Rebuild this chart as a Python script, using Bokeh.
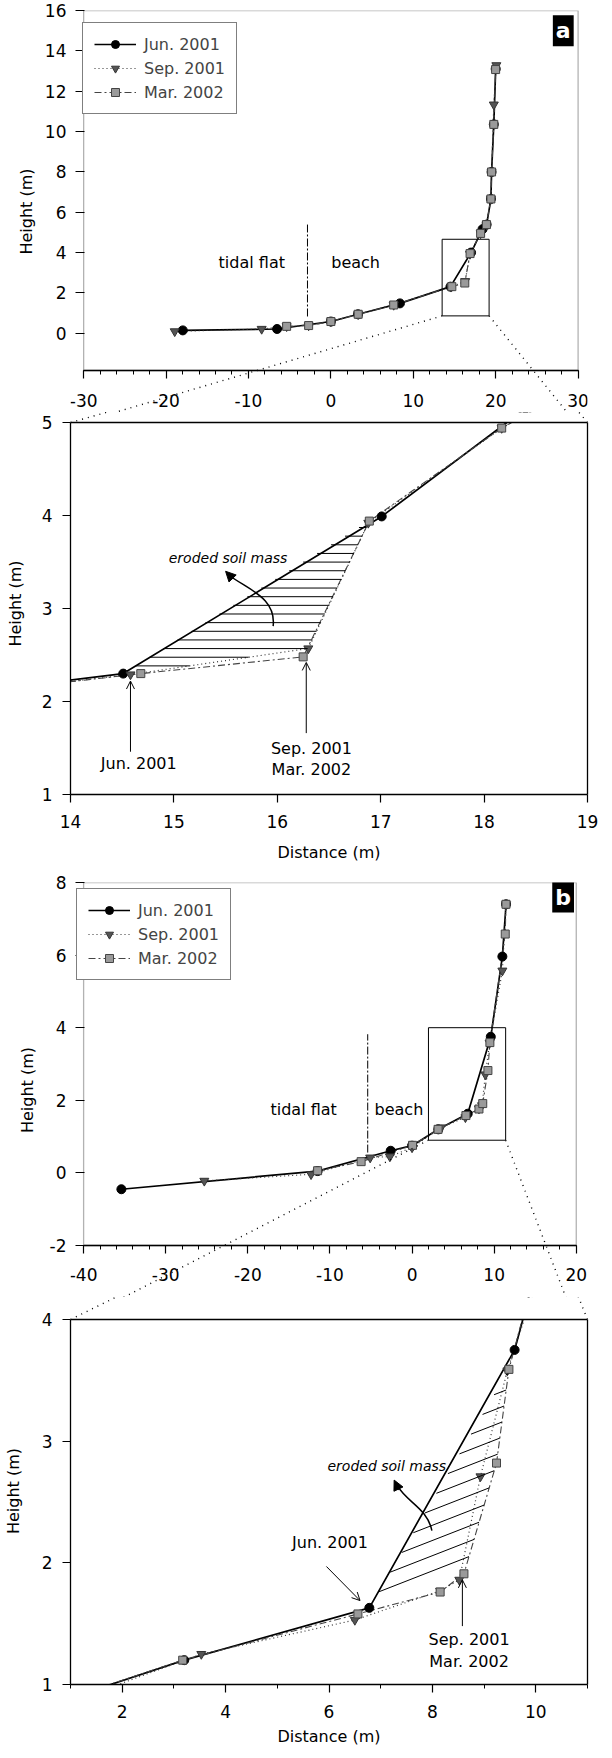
import numpy as np
from bokeh.plotting import figure
from bokeh.layouts import column
from bokeh.models import (Range1d, FixedTicker, Legend, LegendItem, Label, Arrow, LinearAxis,
                          OpenHead, NormalHead, Span, BoxAnnotation, CustomJSTickFormatter)
from bokeh.core.properties import value
from bokeh.embed import file_html
from bokeh.resources import INLINE

FONT = "DejaVu Sans"
W = 604
PAGE_L, PAGE_R = 8, 8 + W
EXT_L, EXT_R = 14, 12   # frame margin beside the axes box of the overview panels

# ---------------- data : profile a ----------------
a_jun_x = [-17.97, -6.53, 0.0, 3.3, 8.38, 14.51, 17.01, 18.4, 18.9, 19.42, 19.5, 19.77, 20.0]
a_jun_y = [0.13, 0.20, 0.57, 0.93, 1.47, 2.30, 3.99, 5.15, 5.38, 6.65, 7.99, 10.35, 13.1]
a_sep_x = [-18.95, -8.40, -5.37, -2.70, 0.0, 3.31, 7.62, 14.58, 16.30, 16.88, 18.17, 18.88, 19.42, 19.50, 19.77, 20.08]
a_sep_y = [0.08, 0.20, 0.33, 0.37, 0.57, 0.93, 1.39, 2.29, 2.57, 3.92, 4.94, 5.38, 6.65, 7.99, 11.33, 13.28]
a_mar_x = [-5.37, -2.70, 0.0, 3.31, 7.62, 14.68, 16.25, 16.89, 18.17, 18.88, 19.42, 19.50, 19.77, 19.99]
a_mar_y = [0.33, 0.37, 0.57, 0.93, 1.39, 2.30, 2.48, 3.94, 4.94, 5.38, 6.65, 7.99, 10.35, 13.07]
a_boundary_x = -2.84
a_boundary_y = [0.82, 5.38]
a_zoombox = [13.5, 19.2, 0.85, 4.65]   # x0, x1, y0, y1

# ---------------- data : profile b ----------------
b_jun_x = [-35.4, -11.5, -2.6, 0.0, 3.2, 6.78, 9.59, 11.0, 11.45]
b_jun_y = [-0.45, 0.05, 0.61, 0.75, 1.20, 1.63, 3.75, 5.96, 7.40]
b_sep_x = [-25.3, -12.3, -5.1, -2.7, 0.0, 3.53, 6.50, 8.15, 8.52, 8.93, 9.45, 11.0, 11.45]
b_sep_y = [-0.22, -0.04, 0.42, 0.45, 0.70, 1.25, 1.53, 1.77, 1.86, 2.71, 3.58, 5.57, 7.40]
b_mar_x = [-11.5, -6.2, 0.06, 3.17, 6.56, 8.15, 8.61, 9.24, 9.48, 11.35, 11.44]
b_mar_y = [0.06, 0.31, 0.76, 1.20, 1.58, 1.76, 1.91, 2.82, 3.59, 6.58, 7.40]
b_boundary_x = -5.4
b_boundary_y = [0.56, 3.82]
b_zoombox = [2.0, 11.4, 0.9, 4.0]

labels = ["Jun. 2001", "Sep. 2001", "Mar. 2002"]

# ---------------- layout (page pixels) ----------------
# ct/cb: canvas top/bottom ; bl/br/bt/bb: axes box edges
LAY = {
    "a":  dict(ct=8,    cb=420,  bl=76, br=602, bt=18,   bb=378,  xr=(-30, 30), yr=(-1.86, 16), main=True),
    "az": dict(ct=420,  cb=880,  bl=73, br=599, bt=430,  bb=802,  xr=(14, 19),  yr=(1, 5),      main=False),
    "b":  dict(ct=880,  cb=1305, bl=71, br=597, bt=890,  bb=1253, xr=(-40, 20), yr=(-2, 8),     main=True),
    "bz": dict(ct=1305, cb=1758, bl=68, br=595, bt=1327, bb=1692, xr=(1, 11),   yr=(1, 4),      main=False),
}
for d in LAY.values():
    if d["main"]:
        d["fl"], d["fr"] = d["bl"] - EXT_L, min(d["br"] + EXT_R, PAGE_R)
        d["ft"], d["fb"] = d["bt"], d["cb"]
    else:
        d["fl"], d["fr"], d["ft"], d["fb"] = d["bl"], d["br"], d["ct"], d["bb"]
    d["ppx"] = (d["br"] - d["bl"]) / (d["xr"][1] - d["xr"][0])
    d["ppy"] = (d["bb"] - d["bt"]) / (d["yr"][1] - d["yr"][0])
    d["xlo"] = d["xr"][0] - (d["bl"] - d["fl"]) / d["ppx"]
    d["xhi"] = d["xr"][1] + (d["fr"] - d["br"]) / d["ppx"]
    d["ylo"] = d["yr"][0] - (d["fb"] - d["bb"]) / d["ppy"]
    d["yhi"] = d["yr"][1] + (d["bt"] - d["ft"]) / d["ppy"]


def to_page(name, x, y):
    d = LAY[name]
    return d["bl"] + (x - d["xr"][0]) * d["ppx"], d["bb"] - (y - d["yr"][0]) * d["ppy"]


def from_page(name, px, py):
    d = LAY[name]
    return d["xr"][0] + (px - d["bl"]) / d["ppx"], d["yr"][0] + (d["bb"] - py) / d["ppy"]


def style_axis(ax):
    ax.axis_line_color = "black"
    ax.axis_line_width = 1.3
    ax.major_tick_line_color = "black"
    ax.major_tick_line_width = 1.2
    ax.major_tick_out = 8
    ax.major_tick_in = 0
    ax.minor_tick_line_color = "black"
    ax.minor_tick_out = 4
    ax.minor_tick_in = 0
    ax.major_label_text_font = FONT
    ax.major_label_text_font_size = "17px"
    ax.major_label_text_color = "black"
    ax.axis_label_text_font = FONT
    ax.axis_label_text_font_size = "16px"
    ax.axis_label_text_font_style = "normal"
    ax.axis_label_text_color = "black"
    ax.formatter = CustomJSTickFormatter(code="return tick.toString()")


def make_fig(name, xticks, xminor, yticks, xlabel=None):
    d = LAY[name]
    p = figure(width=W, height=d["cb"] - d["ct"],
               x_range=Range1d(d["xlo"], d["xhi"]), y_range=Range1d(d["ylo"], d["yhi"]),
               output_backend="svg", toolbar_location=None,
               min_border_left=d["fl"] - PAGE_L, min_border_right=PAGE_R - d["fr"],
               min_border_top=d["ft"] - d["ct"], min_border_bottom=d["cb"] - d["fb"])
    p.xgrid.visible = False
    p.ygrid.visible = False
    p.outline_line_color = None
    p.xaxis.ticker = FixedTicker(ticks=xticks, minor_ticks=xminor)
    p.yaxis.ticker = FixedTicker(ticks=yticks, minor_ticks=[])
    style_axis(p.xaxis[0])
    style_axis(p.yaxis[0])
    p.xaxis.bounds = d["xr"]
    p.yaxis.bounds = d["yr"]
    p.yaxis.axis_label = "Height (m)"
    p.yaxis.major_label_standoff = 10
    if xlabel:
        p.xaxis.axis_label = xlabel
    if d["main"]:
        # x axis drawn at the bottom of the box, inside the (taller) frame
        p.xaxis.fixed_location = d["yr"][0]
        # y axis sits at the frame edge; its ticks reach in to the box edge
        gap = d["bl"] - d["fl"]
        p.yaxis.axis_line_color = None
        p.yaxis.major_tick_out = 0
        p.yaxis.major_tick_in = gap
        p.yaxis.major_tick_line_dash = "0 %d %d 40" % (gap - 9, 9)
        p.yaxis.major_label_standoff = 4
        p.add_layout(BoxAnnotation(left=d["xr"][0], right=d["xr"][1], bottom=d["yr"][0],
                                   top=d["yr"][1], fill_alpha=0, fill_color=None,
                                   line_color="black", line_width=1.3))
    else:
        p.add_layout(LinearAxis(ticker=FixedTicker(ticks=[]), bounds=d["yr"],
                                axis_line_color="black", axis_line_width=1.3,
                                major_label_text_font_size="0px"), "right")
        p.add_layout(BoxAnnotation(bottom=d["yr"][1], fill_color="white", fill_alpha=1,
                                   line_color=None, level="annotation"))
        p.add_layout(Span(location=d["yr"][1], dimension="width", line_color="black",
                          line_width=1.3, level="overlay"))
    return p


def draw_series(p, jx, jy, sx, sy, mx, my):
    lj = p.line(jx, jy, line_color="black", line_width=1.7)
    ls = p.line(sx, sy, line_color="#333333", line_width=1.2, line_dash="1 3")
    lm = p.line(mx, my, line_color="#444444", line_width=1.1, line_dash="7 3 2 3")
    mj = p.scatter(jx, jy, marker="circle", size=9, fill_color="black", line_color="black")
    ms = p.scatter(sx, sy, marker="inverted_triangle", size=9, fill_color="#555555", line_color="#333333")
    mm = p.scatter(mx, my, marker="square", size=8, fill_color="#9a9a9a", line_color="#444444")
    return [(lj, mj), (ls, ms), (lm, mm)]


def add_legend(p, rends, margin):
    items = [LegendItem(label=lab, renderers=list(r)) for lab, r in zip(labels, rends)]
    lg = Legend(items=items, location="top_left", margin=margin, padding=11, spacing=4,
                glyph_width=42, glyph_height=20, label_height=20, label_standoff=8,
                label_text_font=FONT, label_text_font_size="16px",
                border_line_color="black", border_line_width=1.2,
                background_fill_color="white", background_fill_alpha=1)
    p.add_layout(lg)


def hatch(p, px, py, slope, step):
    px = np.asarray(px, float)
    py = np.asarray(py, float)
    cv = py - slope * px
    x0s, y0s, x1s, y1s = [], [], [], []
    n = len(px)
    c = cv.min() + step
    while c < cv.max():
        xs = []
        for i in range(n):
            xa, ya, xb, yb = px[i], py[i], px[(i + 1) % n], py[(i + 1) % n]
            fa = ya - slope * xa - c
            fb = yb - slope * xb - c
            if fa * fb < 0:
                t = fa / (fa - fb)
                xs.append(xa + t * (xb - xa))
        if len(xs) >= 2:
            xl, xr_ = min(xs), max(xs)
            x0s.append(xl); y0s.append(slope * xl + c)
            x1s.append(xr_); y1s.append(slope * xr_ + c)
        c += step
    p.segment(x0s, y0s, x1s, y1s, line_color="black", line_width=1)


def connector(p, xs, ys):
    p.line(list(xs), list(ys), line_color="black", line_width=1.4, line_dash="1 5",
           level="overlay")


def txt(p, x, y, s, size="16px", align="center", style="normal"):
    p.text(x=[x], y=[y], text=[s], text_font=value(FONT), text_font_size=value(size),
           text_align=align, text_baseline="middle", text_color="black",
           text_font_style=style)


def panel_tag(p, x, y, s):
    p.add_layout(Label(x=x, y=y, text=s, text_color="white", text_font=FONT,
                       text_font_size="22px", text_font_style="bold",
                       text_align="center", text_baseline="middle",
                       background_fill_color="black", background_fill_alpha=1,
                       padding=3))


def vline_arrow(p, x, y0, y1):
    p.add_layout(Arrow(end=OpenHead(size=8, line_width=1, line_color="black"),
                       x_start=x, y_start=y0, x_end=x, y_end=y1,
                       line_color="black", line_width=1))


# ================= panel a =================
pa = make_fig("a", list(range(-30, 31, 10)), list(range(-30, 31, 2)), list(range(0, 17, 2)))
pa.xaxis.major_label_standoff = 15
pa.yaxis.axis_label_standoff = 6
ra = draw_series(pa, a_jun_x, a_jun_y, a_sep_x, a_sep_y, a_mar_x, a_mar_y)
add_legend(pa, ra, 12)
pa.segment([a_boundary_x], [a_boundary_y[0]], [a_boundary_x], [a_boundary_y[1]],
           line_color="black", line_width=1, line_dash="8 2 2 2")
txt(pa, -9.6, 3.5, "tidal flat")
txt(pa, 3.0, 3.5, "beach")
bx0, bx1, by0, by1 = a_zoombox
pa.quad(left=[bx0], right=[bx1], bottom=[by0], top=[by1], fill_alpha=0,
        line_color="black", line_width=1)
panel_tag(pa, 28.2, 15.0, "a")
daz = LAY["az"]
ex0, ey0 = from_page("a", daz["bl"], daz["bt"])
ex1, ey1 = from_page("a", daz["br"], daz["bt"])
connector(pa, [bx0, ex0], [by0, ey0])
connector(pa, [bx1, ex1], [by0, ey1])

# ================= panel a zoom =================
paz = make_fig("az", list(range(14, 20)), [], list(range(1, 6)), "Distance (m)")
paz.xaxis.major_label_standoff = 12
paz.xaxis.axis_label_standoff = 12
paz.yaxis.axis_label_standoff = 14
draw_series(paz, a_jun_x, a_jun_y, a_sep_x, a_sep_y, a_mar_x, a_mar_y)
poly_ax = [a_jun_x[5], a_mar_x[7], a_sep_x[8], a_sep_x[7]]
poly_ay = [a_jun_y[5], a_mar_y[7], a_sep_y[8], a_sep_y[7]]
hatch(paz, poly_ax, poly_ay, 0.0, 0.093)
txt(paz, 14.95, 3.54, "eroded soil mass", size="14px", align="left", style="italic")
paz.bezier(x0=[15.96], y0=[2.81], x1=[15.53], y1=[3.36], cx0=[15.99], cy0=[3.12],
           cx1=[15.72], cy1=[3.2], line_color="black", line_width=1.5)
paz.add_layout(Arrow(end=NormalHead(size=10, fill_color="black", line_color="black"),
                     x_start=15.57, y_start=3.32, x_end=15.5, y_end=3.4,
                     line_color="black", line_width=1.5))
vline_arrow(paz, 14.58, 1.46, 2.22)
vline_arrow(paz, 16.28, 1.66, 2.42)
txt(paz, 14.66, 1.33, "Jun. 2001")
txt(paz, 16.33, 1.50, "Sep. 2001")
txt(paz, 16.33, 1.27, "Mar. 2002")
c0 = from_page("az", *to_page("a", bx0, by0))
c1 = from_page("az", *to_page("a", bx1, by0))
connector(paz, [daz["xr"][0], c0[0]], [daz["yr"][1], c0[1]])
connector(paz, [daz["xr"][1], c1[0]], [daz["yr"][1], c1[1]])

# ================= panel b =================
pb = make_fig("b", list(range(-40, 21, 10)), list(range(-40, 21, 2)), list(range(-2, 9, 2)))
pb.xaxis.major_label_standoff = 14
pb.yaxis.axis_label_standoff = 10
rb = draw_series(pb, b_jun_x, b_jun_y, b_sep_x, b_sep_y, b_mar_x, b_mar_y)
add_legend(pb, rb, 6)
pb.segment([b_boundary_x], [b_boundary_y[0]], [b_boundary_x], [b_boundary_y[1]],
           line_color="black", line_width=1, line_dash="8 2 2 2")
txt(pb, -13.2, 1.76, "tidal flat")
txt(pb, -1.6, 1.76, "beach")
cx0_, cx1_, cy0_, cy1_ = b_zoombox
pb.quad(left=[cx0_], right=[cx1_], bottom=[cy0_], top=[cy1_], fill_alpha=0,
        line_color="black", line_width=1)
panel_tag(pb, 18.4, 7.6, "b")
dbz = LAY["bz"]
fx0, fy0 = from_page("b", dbz["bl"], dbz["bt"])
fx1, fy1 = from_page("b", dbz["br"], dbz["bt"])
connector(pb, [cx0_, fx0], [cy0_, fy0])
connector(pb, [cx1_, fx1], [cy0_, fy1])

# ================= panel b zoom =================
pbz = make_fig("bz", [2, 4, 6, 8, 10], list(range(1, 12)), [1, 2, 3, 4], "Distance (m)")
pbz.xaxis.major_label_standoff = 12
pbz.xaxis.axis_label_standoff = 6
pbz.yaxis.axis_label_standoff = 16
draw_series(pbz, b_jun_x, b_jun_y, b_sep_x, b_sep_y, b_mar_x, b_mar_y)
poly_bx = [b_jun_x[5], b_mar_x[8], b_mar_x[7], b_mar_x[6]]
poly_by = [b_jun_y[5], b_mar_y[8], b_mar_y[7], b_mar_y[6]]
hatch(pbz, poly_bx, poly_by, 0.166, 0.125)
txt(pbz, 5.97, 2.80, "eroded soil mass", size="14px", align="left", style="italic")
pbz.bezier(x0=[7.99], y0=[2.265], x1=[7.33], y1=[2.63], cx0=[7.9], cy0=[2.45],
           cx1=[7.5], cy1=[2.5], line_color="black", line_width=1.5)
pbz.add_layout(Arrow(end=NormalHead(size=10, fill_color="black", line_color="black"),
                     x_start=7.35, y_start=2.6, x_end=7.26, y_end=2.68,
                     line_color="black", line_width=1.5))
pbz.add_layout(Arrow(end=OpenHead(size=8, line_width=1, line_color="black"),
                     x_start=5.95, y_start=1.97, x_end=6.6, y_end=1.69,
                     line_color="black", line_width=1))
vline_arrow(pbz, 8.58, 1.48, 1.86)
txt(pbz, 6.02, 2.17, "Jun. 2001")
txt(pbz, 8.71, 1.37, "Sep. 2001")
txt(pbz, 8.71, 1.19, "Mar. 2002")
d0 = from_page("bz", *to_page("b", cx0_, cy0_))
d1 = from_page("bz", *to_page("b", cx1_, cy0_))
connector(pbz, [dbz["xr"][0], d0[0]], [dbz["yr"][1], d0[1]])
connector(pbz, [dbz["xr"][1], d1[0]], [dbz["yr"][1], d1[1]])

layout = column(pa, paz, pb, pbz, spacing=0)
open("out.html", "w").write(file_html(layout, INLINE))
